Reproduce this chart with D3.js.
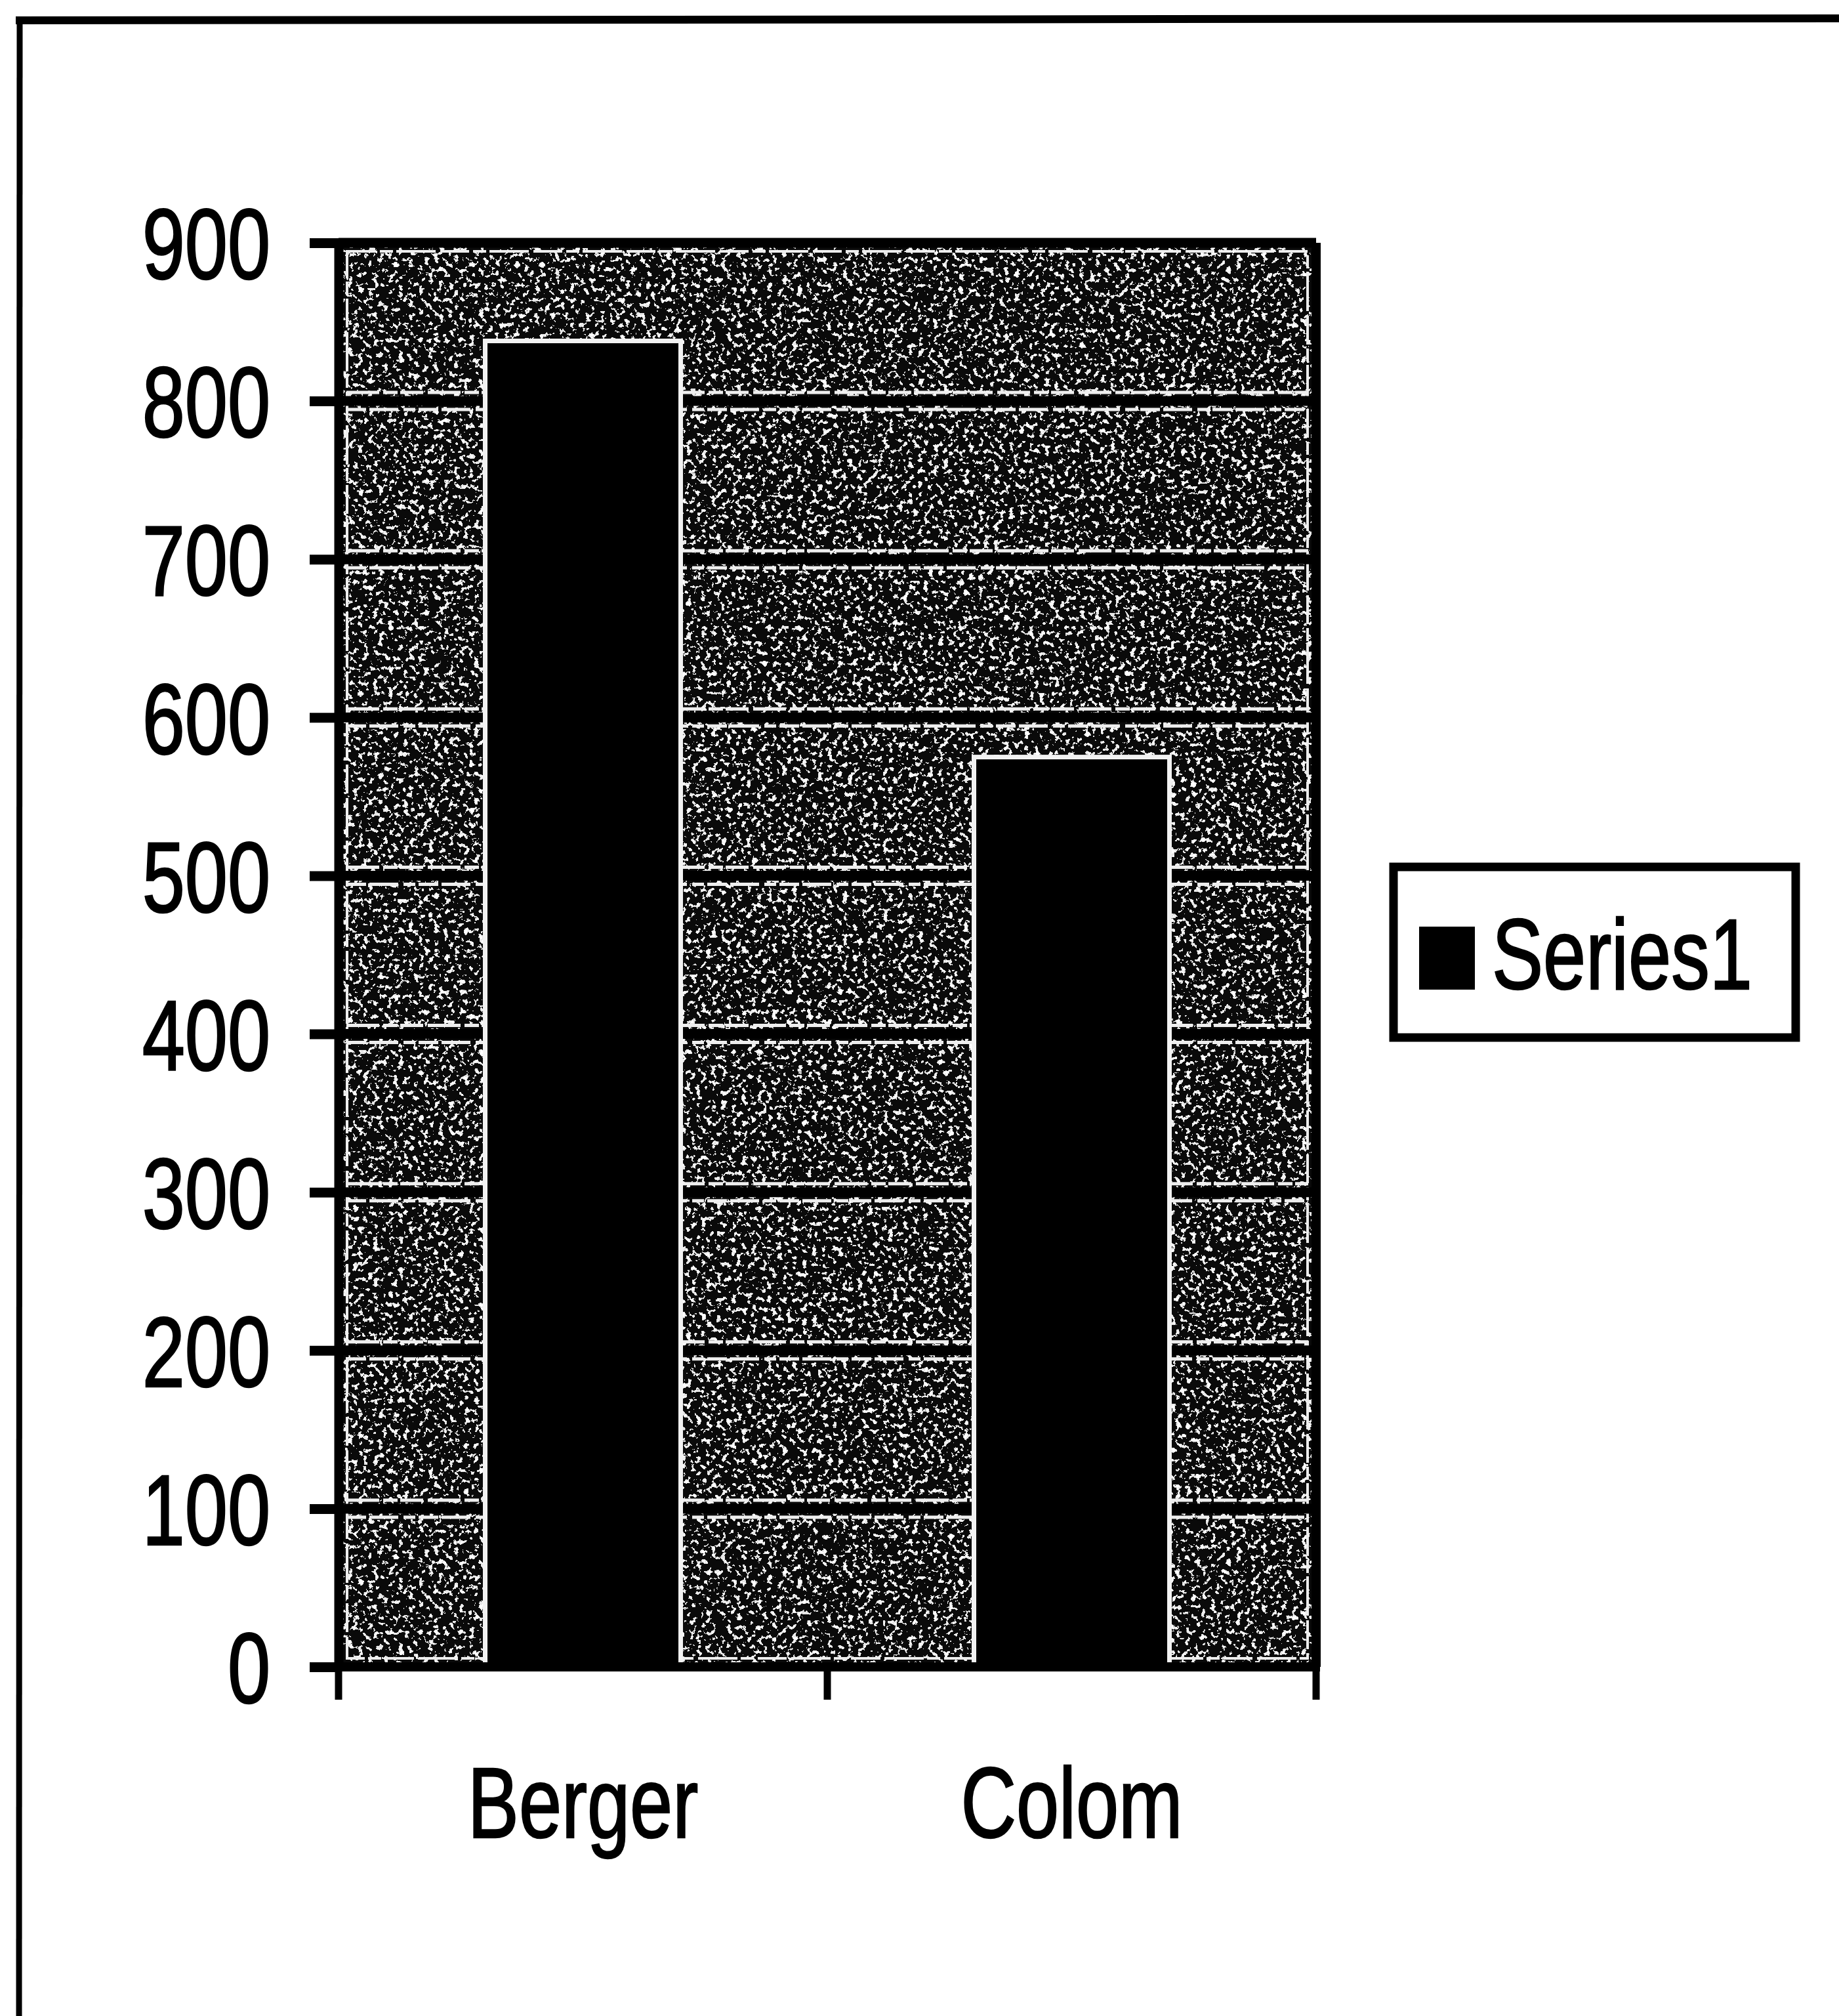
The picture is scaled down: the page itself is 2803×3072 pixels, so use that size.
<!DOCTYPE html>
<html>
<head>
<meta charset="utf-8">
<script src="https://cdn.jsdelivr.net/npm/d3@7"></script>
<style>
  html, body { margin: 0; padding: 0; background: #fff; }
  svg { display: block; }
  text { font-family: "Liberation Sans", Arial, sans-serif; fill: #000; stroke: #000; stroke-width: 2.5px; }
</style>
</head>
<body>
<script>
// ---- data ----
const categories = ["Berger", "Colom"];
const values = [838, 575];
const yTicks = [0, 100, 200, 300, 400, 500, 600, 700, 800, 900];
const seriesName = "Series1";

// ---- layout ----
const W = 2803, H = 3072;
const plot = { left: 516, right: 2006, top: 370, bottom: 2540 };
const fontSize = 152, squeeze = 0.77;

const svg = d3.select("body").append("svg").attr("width", W).attr("height", H);

const defs = svg.append("defs");
const f = defs.append("filter").attr("id", "speckle")
  .attr("x", 0).attr("y", 0).attr("width", "100%").attr("height", "100%")
  .attr("filterUnits", "objectBoundingBox");
f.append("feTurbulence").attr("type", "fractalNoise").attr("baseFrequency", 0.13)
  .attr("numOctaves", 3).attr("seed", 7).attr("result", "n");
f.append("feColorMatrix").attr("in", "n").attr("type", "matrix")
  .attr("values", "0 0 0 0 1  0 0 0 0 1  0 0 0 0 1  1 0 0 0 0").attr("result", "a");
const ct = f.append("feComponentTransfer");
ct.append("feFuncA").attr("type", "discrete").attr("tableValues", "0 0 0 0 0 0 0.9 1 1 1");

// outer frame (top and left edges)
svg.append("line").attr("x1", 24).attr("y1", 31).attr("x2", W).attr("y2", 28)
  .attr("stroke", "#000").attr("stroke-width", 12);
svg.append("line").attr("x1", 30).attr("y1", 25).attr("x2", 29).attr("y2", H)
  .attr("stroke", "#000").attr("stroke-width", 9);

// scales
const x = d3.scaleBand().domain(categories).range([plot.left, plot.right])
  .paddingInner(0.6).paddingOuter(0.3);
const y = d3.scaleLinear().domain([0, 900]).range([plot.bottom, plot.top]);

// plot background
svg.append("rect").attr("x", plot.left).attr("y", plot.top)
  .attr("width", plot.right - plot.left).attr("height", plot.bottom - plot.top)
  .attr("fill", "#0a0a0a");
svg.append("rect").attr("x", plot.left).attr("y", plot.top)
  .attr("width", plot.right - plot.left).attr("height", plot.bottom - plot.top)
  .attr("fill", "#fff").attr("filter", "url(#speckle)");

// inner white outline of plot area
svg.append("rect").attr("x", plot.left + 13).attr("y", plot.top + 13)
  .attr("width", plot.right - plot.left - 26).attr("height", plot.bottom - plot.top - 26)
  .attr("fill", "none").attr("stroke", "#eee").attr("stroke-width", 4)
  .attr("stroke-dasharray", "44 6 20 5 60 7");

// gridlines: black line with white halos
const grid = svg.append("g");
const gt = yTicks.filter(v => v > 0 && v < 900);
grid.selectAll("line.halo1").data(gt).join("line")
  .attr("x1", plot.left + 12).attr("x2", plot.right - 12)
  .attr("y1", d => y(d) - 13).attr("y2", d => y(d) - 13)
  .attr("stroke", "#eee").attr("stroke-width", 5).attr("stroke-dasharray", "50 6 22 4 35 7");
grid.selectAll("line.halo2").data(gt).join("line")
  .attr("x1", plot.left + 12).attr("x2", plot.right - 12)
  .attr("y1", d => y(d) + 13).attr("y2", d => y(d) + 13)
  .attr("stroke", "#eee").attr("stroke-width", 5).attr("stroke-dasharray", "30 5 44 8 18 5");
grid.selectAll("line.g").data(gt).join("line")
  .attr("x1", plot.left).attr("x2", plot.right)
  .attr("y1", d => y(d)).attr("y2", d => y(d))
  .attr("stroke", "#000").attr("stroke-width", 15);

// bars
svg.append("g").selectAll("rect").data(values).join("rect")
  .attr("x", (d, i) => x(categories[i]))
  .attr("y", d => y(d))
  .attr("width", x.bandwidth())
  .attr("height", d => y(0) - y(d))
  .attr("fill", "#000").attr("stroke", "#f2f2f2").attr("stroke-width", 7);

// plot border right/top
svg.append("line").attr("x1", plot.right).attr("x2", plot.right)
  .attr("y1", plot.top).attr("y2", plot.bottom).attr("stroke", "#000").attr("stroke-width", 14);
svg.append("line").attr("x1", plot.left).attr("x2", plot.right)
  .attr("y1", plot.top).attr("y2", plot.top).attr("stroke", "#000").attr("stroke-width", 15);

// y axis
const yAxis = svg.append("g").attr("transform", `translate(${plot.left},0)`)
  .call(d3.axisLeft(y).tickValues(yTicks).tickSize(44).tickSizeOuter(0));
yAxis.select(".domain").attr("stroke", "#000").attr("stroke-width", 14);
yAxis.selectAll(".tick line").attr("stroke", "#000").attr("stroke-width", 15);
yAxis.selectAll(".tick text")
  .attr("x", 0).attr("dy", "0.36em")
  .attr("transform", `translate(-104,0) scale(${squeeze},1)`)
  .attr("text-anchor", "end")
  .style("font-size", fontSize + "px").style("font-family", "'Liberation Sans', Arial, sans-serif")
  .attr("fill", "#000");

// x axis
const xAxis = svg.append("g").attr("transform", `translate(0,${plot.bottom})`)
  .call(d3.axisBottom(x).tickSize(0).tickSizeOuter(0));
xAxis.select(".domain").attr("stroke", "#000").attr("stroke-width", 14)
  .attr("d", `M${plot.left - 4},0H${plot.right + 6}`);
xAxis.selectAll(".tick text")
  .attr("y", 0).attr("dy", 0)
  .attr("transform", `translate(0,260) scale(${squeeze},1)`)
  .style("font-size", fontSize + "px").style("font-family", "'Liberation Sans', Arial, sans-serif")
  .attr("fill", "#000");
const bounds = d3.range(categories.length + 1).map(i => x.range()[0] + i * (x.range()[1] - x.range()[0]) / categories.length);
xAxis.selectAll("line.bt").data(bounds).join("line")
  .attr("x1", d => d).attr("x2", d => d).attr("y1", 0).attr("y2", 50)
  .attr("stroke", "#000").attr("stroke-width", 11);

// legend
const lg = svg.append("g");
lg.append("rect").attr("x", 2124).attr("y", 1321).attr("width", 613).attr("height", 260)
  .attr("fill", "#fff").attr("stroke", "#000").attr("stroke-width", 13);
lg.append("rect").attr("x", 2163).attr("y", 1412).attr("width", 85).attr("height", 96)
  .attr("fill", "#000");
lg.append("text").attr("x", 0).attr("y", 0)
  .attr("transform", `translate(2274,1507) scale(${squeeze},1)`)
  .style("font-size", fontSize + "px")
  .text(seriesName);
</script>
</body>
</html>
